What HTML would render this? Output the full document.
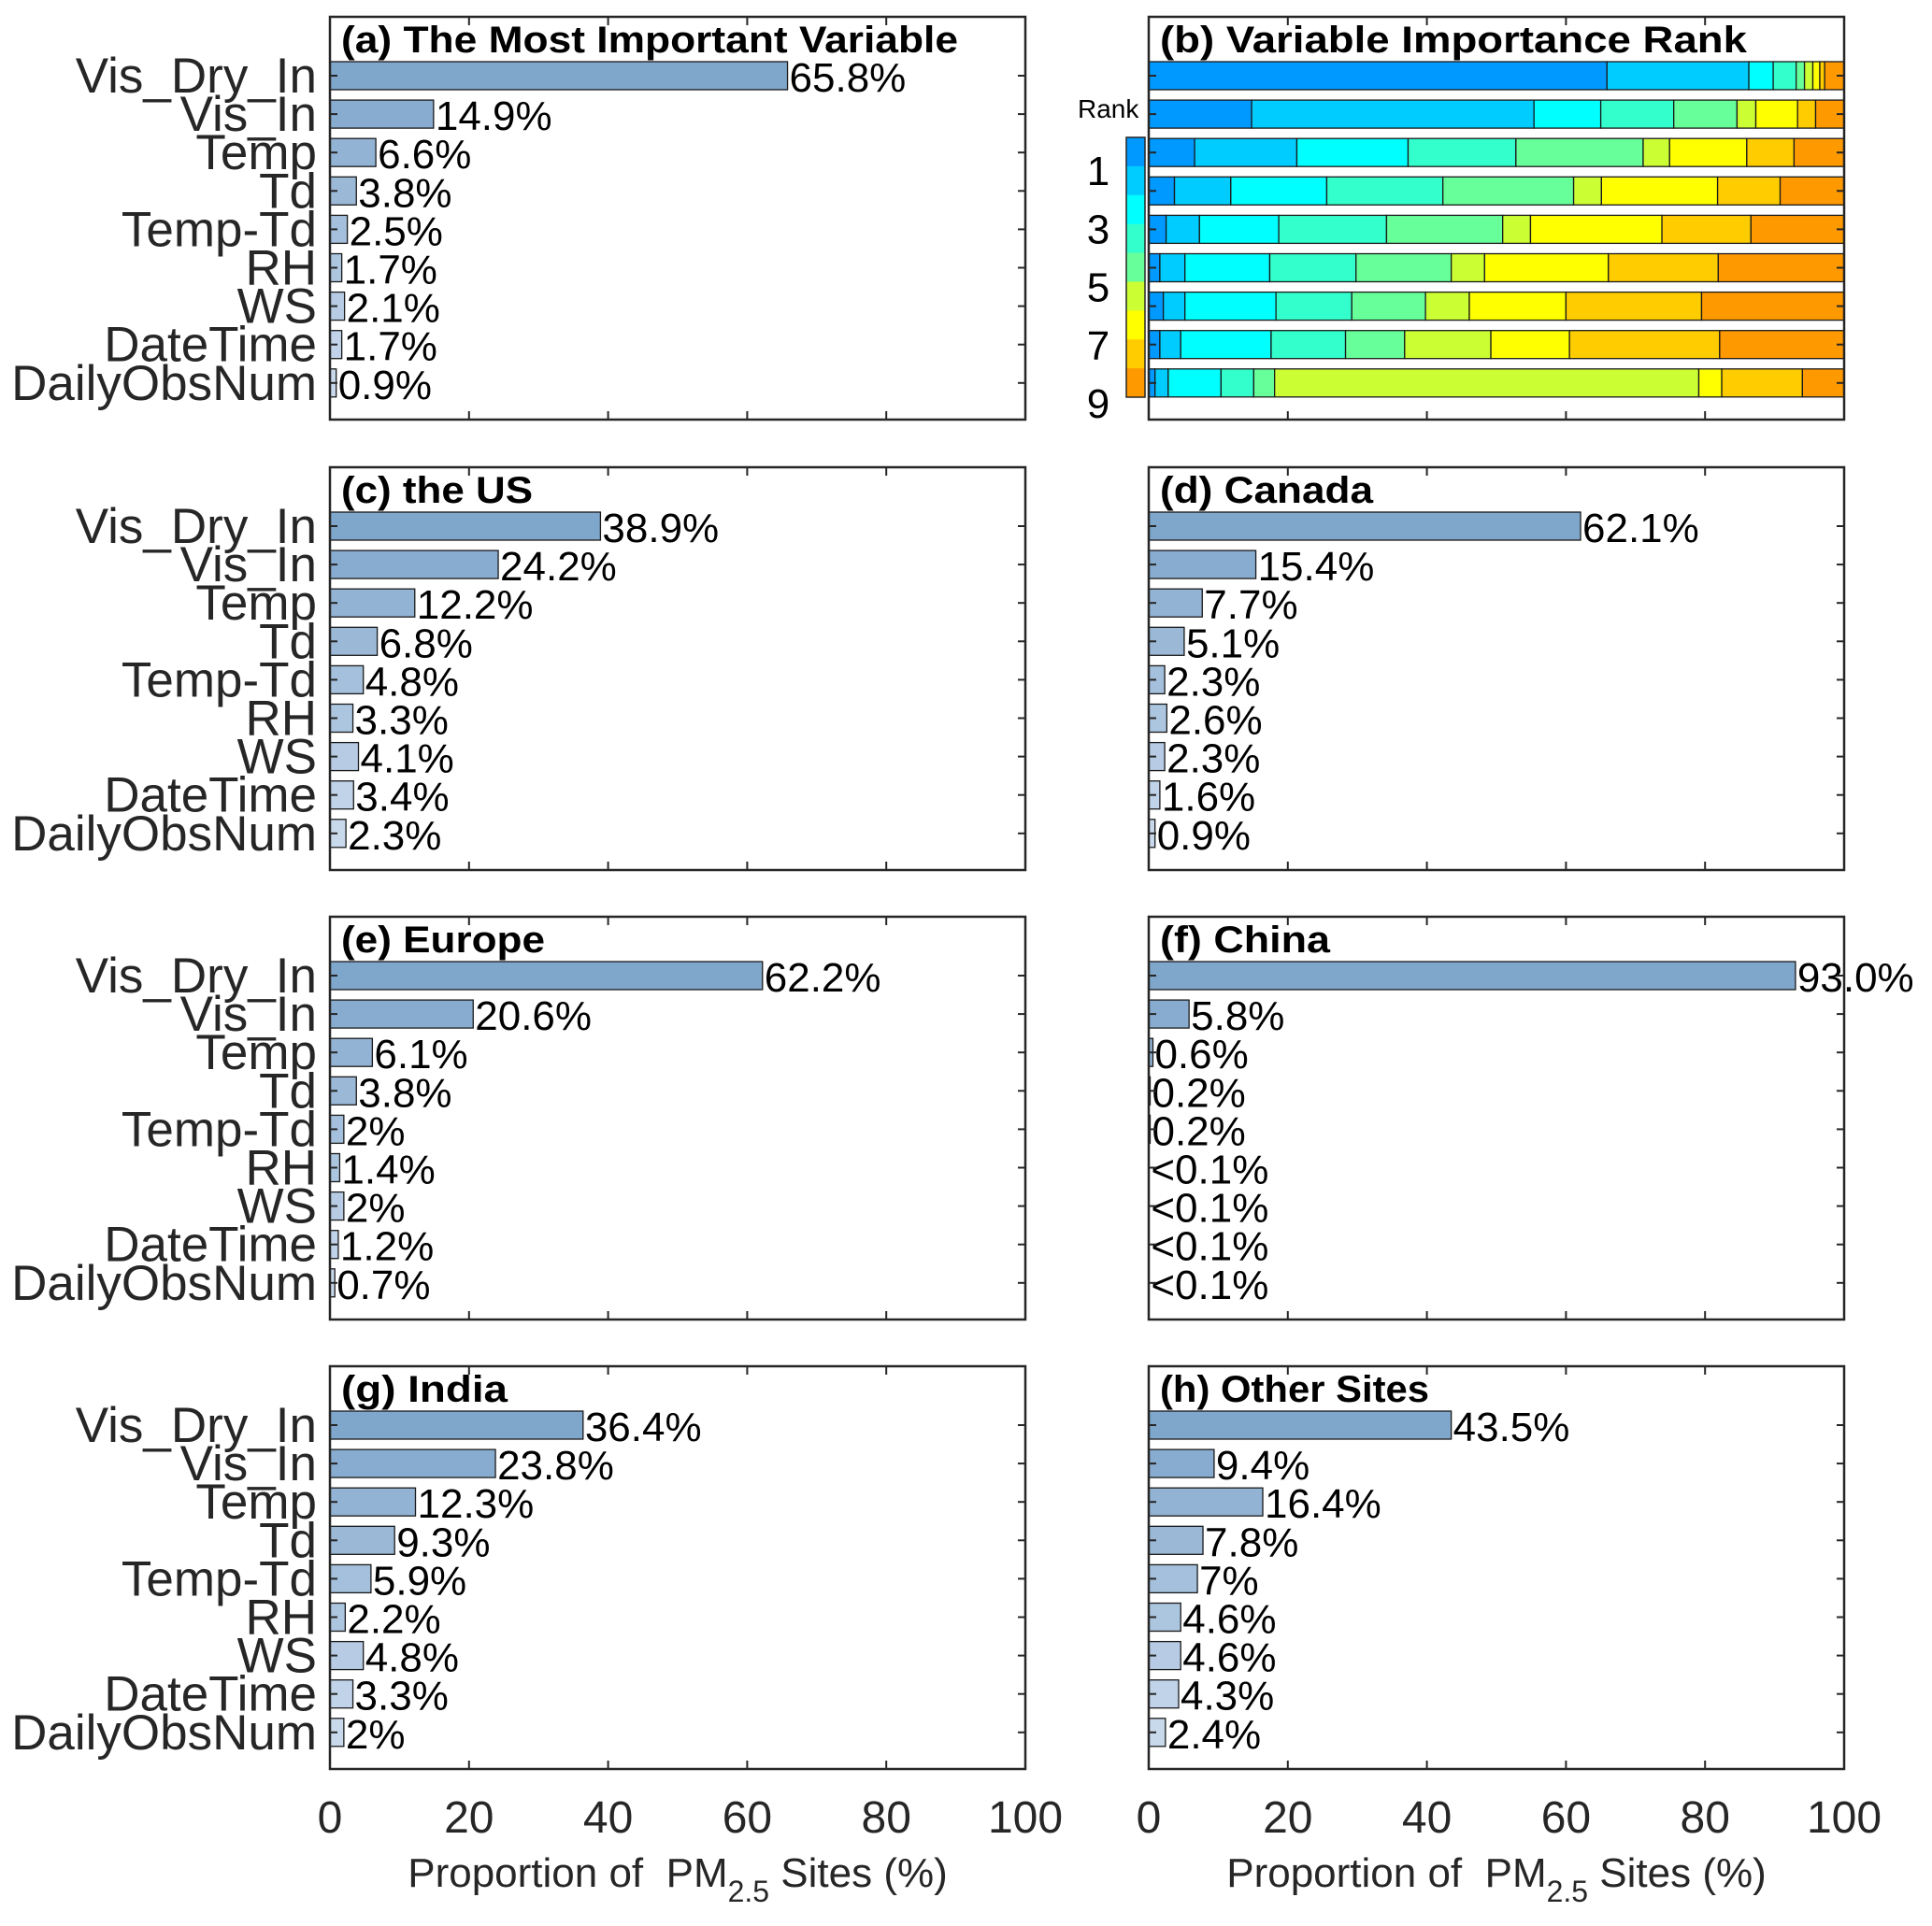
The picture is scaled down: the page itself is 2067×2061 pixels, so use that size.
<!DOCTYPE html>
<html><head><meta charset="utf-8"><style>
html,body{margin:0;padding:0;background:#fff;}
svg{display:block;font-family:"Liberation Sans",Arial,sans-serif;}
</style></head><body>
<svg id="fig" width="2067" height="2061" viewBox="0 0 2067 2061" xmlns="http://www.w3.org/2000/svg"></svg>
<script>
const categories = ["Vis_Dry_In","Vis_In","Temp","Td","Temp-Td","RH","WS","DateTime","DailyObsNum"];
const valsA = [65.8,14.9,6.6,3.8,2.5,1.7,2.1,1.7,0.9];
const valsC = [38.9,24.2,12.2,6.8,4.8,3.3,4.1,3.4,2.3];
const valsD = [62.1,15.4,7.7,5.1,2.3,2.6,2.3,1.6,0.9];
const valsE = [62.2,20.6,6.1,3.8,2,1.4,2,1.2,0.7];
const valsF = [93.0,5.8,0.6,0.2,0.2,0.05,0.05,0.05,0.05];
const valsG = [36.4,23.8,12.3,9.3,5.9,2.2,4.8,3.3,2];
const valsH = [43.5,9.4,16.4,7.8,7,4.6,4.6,4.3,2.4];
const labelsA = ["65.8%","14.9%","6.6%","3.8%","2.5%","1.7%","2.1%","1.7%","0.9%"];
const labelsC = ["38.9%","24.2%","12.2%","6.8%","4.8%","3.3%","4.1%","3.4%","2.3%"];
const labelsD = ["62.1%","15.4%","7.7%","5.1%","2.3%","2.6%","2.3%","1.6%","0.9%"];
const labelsE = ["62.2%","20.6%","6.1%","3.8%","2%","1.4%","2%","1.2%","0.7%"];
const labelsF = ["93.0%","5.8%","0.6%","0.2%","0.2%","<0.1%","<0.1%","<0.1%","<0.1%"];
const labelsG = ["36.4%","23.8%","12.3%","9.3%","5.9%","2.2%","4.8%","3.3%","2%"];
const labelsH = ["43.5%","9.4%","16.4%","7.8%","7%","4.6%","4.6%","4.3%","2.4%"];
// rank stacked shares per variable row (rank 1..9)
const rankRow1 = [65.9,20.4,3.5,3.3,1.2,1.2,1.0,0.7,2.8];
const rankRow2 = [14.8,40.6,9.6,10.5,9.1,2.7,6.0,2.6,4.1];
const rankRow3 = [6.6,14.7,16.0,15.5,18.3,3.8,11.1,6.8,7.2];
const rankRow4 = [3.7,8.1,13.8,16.7,18.8,4.0,16.7,9.0,9.2];
const rankRow5 = [2.5,4.8,11.4,15.5,16.7,4.0,18.9,12.8,13.4];
const rankRow6 = [1.6,3.6,12.2,12.4,13.7,4.8,17.8,15.8,18.1];
const rankRow7 = [2.1,3.1,13.1,10.9,10.6,6.3,13.9,19.5,20.5];
const rankRow8 = [1.6,3.0,13.0,10.7,8.5,12.4,11.3,21.6,17.9];
const rankRow9 = [0.9,1.9,7.6,4.7,3.0,61.0,3.3,11.6,6.0];
const xTicks = [0,20,40,60,80,100];
const rankTicks = [1,3,5,7,9];

const rankColors = ["#0099ff","#00ccff","#00ffff","#33ffcc","#66ff99","#ccff33","#ffff00","#ffcc00","#ff9900"];
const NS="http://www.w3.org/2000/svg";
const svg=document.getElementById('fig');
function el(tag,attrs,parent){const e=document.createElementNS(NS,tag);for(const k in attrs)e.setAttribute(k,attrs[k]);(parent||svg).appendChild(e);return e;}
const PW=744, PH=431;
const colX=[353,1229];
const rowY=[18,500,981,1462];
function xs(x0,v){return x0+v/100*PW;}
function ys(y0,i){return y0+63+i*41.1;}
function barColor(i){const a=[127,166,203],b=[201,217,236];const t=i/8;return `rgb(${a.map((c,k)=>Math.round(c+(b[k]-c)*t)).join(',')})`;}

function frame(g,x0,y0){
  const ax=el('rect',{x:x0,y:y0,width:PW,height:PH,fill:'none',stroke:'#262626','stroke-width':2.5},g);
  
  
  for(let i=0;i<categories.length;i++){
    const y=ys(y0,i);
    el('line',{x1:x0,y1:y,x2:x0+8,y2:y,stroke:'#262626','stroke-width':2},g);
    el('line',{x1:x0+PW,y1:y,x2:x0+PW-8,y2:y,stroke:'#262626','stroke-width':2},g);
  }
  for(const t of xTicks){
    if(t===0||t===100)continue;
    const x=xs(x0,t);
    el('line',{x1:x,y1:y0+PH,x2:x,y2:y0+PH-9,stroke:'#262626','stroke-width':2},g);
    el('line',{x1:x,y1:y0,x2:x,y2:y0+9,stroke:'#262626','stroke-width':2},g);
  }
}
function title(g,x0,y0,txt,len){
  const t=el('text',{x:x0+12,y:y0+38,'font-size':40,'font-weight':'bold',fill:'#000',textLength:len,lengthAdjust:'spacingAndGlyphs'},g);
  t.textContent=txt;
  
  
}
function barPanel(name,x0,y0,vals,labels,ttl,tlen,showY){
  const g=el('g',{});
  
  
  for(let i=0;i<vals.length;i++){
    const y=ys(y0,i);
    const r=el('rect',{x:x0,y:y-15,width:Math.max(0,xs(x0,vals[i])-x0),height:30,fill:barColor(i),stroke:'#1a1a1a','stroke-width':1.3},g);
    
    
    const t=el('text',{x:xs(x0,vals[i])+2,y:y+17,'font-size':44,fill:'#000'},g);
    t.textContent=labels[i];
    
    
    if(showY){
      const l=el('text',{x:x0-14,y:y+18,'font-size':53,fill:'#262626','text-anchor':'end'},g);
      l.textContent=categories[i];
      
      
    }
  }
  frame(g,x0,y0);
  title(g,x0,y0,ttl,tlen);
}
barPanel('panel-a',colX[0],rowY[0],valsA,labelsA,'(a) The Most Important Variable',660,true);
barPanel('panel-c',colX[0],rowY[1],valsC,labelsC,'(c) the US',205,true);
barPanel('panel-d',colX[1],rowY[1],valsD,labelsD,'(d) Canada',228,false);
barPanel('panel-e',colX[0],rowY[2],valsE,labelsE,'(e) Europe',218,true);
barPanel('panel-f',colX[1],rowY[2],valsF,labelsF,'(f) China',182,false);
barPanel('panel-g',colX[0],rowY[3],valsG,labelsG,'(g) India',178,true);
barPanel('panel-h',colX[1],rowY[3],valsH,labelsH,'(h) Other Sites',288,false);

// panel b
const rankRows=[rankRow1,rankRow2,rankRow3,rankRow4,rankRow5,rankRow6,rankRow7,rankRow8,rankRow9];
(function(){
  const g=el('g',{});
  
  
  const x0=colX[1],y0=rowY[0];
  rankRows.forEach((row,i)=>{
    let acc=0;const y=ys(y0,i);
    row.forEach((v,k)=>{
      const r=el('rect',{x:xs(x0,acc),y:y-15,width:xs(x0,acc+v)-xs(x0,acc),height:30,fill:rankColors[k],stroke:'#1a1a1a','stroke-width':1.3},g);
      
      
      acc+=v;
    });
  });
  frame(g,x0,y0);
  title(g,x0,y0,'(b) Variable Importance Rank',628);
  // colorbar
  const cb=el('g',{},g);
  
  
  const cx=1205,cy=147,ch=278,cw=20;
  rankColors.forEach((c,k)=>{el('rect',{x:cx,y:cy+k*ch/9,width:cw,height:ch/9+0.5,fill:c},cb);});
  el('rect',{x:cx,y:cy,width:cw,height:ch,fill:'none',stroke:'#262626','stroke-width':1.5},cb);
  rankTicks.forEach(r=>{
    const ty=182+(r-1)/8*249;
    const t=el('text',{x:1175,y:ty+16,'font-size':44,fill:'#000','text-anchor':'middle'},cb);
    t.textContent=r;
    
    
  });
  const rk=el('text',{x:1153,y:126,'font-size':28,fill:'#000'},cb);
  rk.textContent='Rank';
  
  
})();

// x tick labels and axis titles
colX.forEach((x0,ci)=>{
  xTicks.forEach(t=>{
    const tl=el('text',{x:xs(x0,t),y:1961,'font-size':48,fill:'#262626','text-anchor':'middle'});
    tl.textContent=t;
    
    
  });
  const xl=el('text',{x:x0+PW/2,y:2019,'font-size':44,fill:'#262626','text-anchor':'middle'});
  
  
  xl.innerHTML='Proportion of&#160; PM<tspan font-size="32" dy="16">2.5</tspan><tspan dy="-16"> Sites (%)</tspan>';
});
</script>
</body></html>
